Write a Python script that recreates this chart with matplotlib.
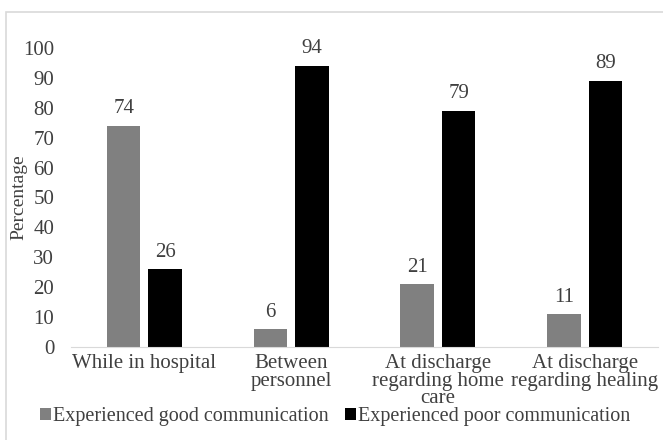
import matplotlib
matplotlib.use("Agg")
import matplotlib.pyplot as plt
import matplotlib.patches as patches
import numpy as np

plt.rcParams['font.family'] = ['Liberation Serif', 'DejaVu Serif']

# data
categories = ['While in hospital', 'Between\npersonnel',
              'At discharge\nregarding home\ncare', 'At discharge\nregarding healing']
good = [74, 6, 21, 11]
poor = [26, 94, 79, 89]
series_names = ['Experienced good communication', 'Experienced poor communication']

fig = plt.figure(figsize=(6.63, 4.40), dpi=100)
ax = fig.add_axes([0.107, 0.2114, 0.8855, 0.6795])

# chart border (light grey, runs off the right/bottom edges)
fig.patches.append(patches.Rectangle((0.009, -0.05), 1.1, 0.973 + 0.05,
                                     transform=fig.transFigure, fill=False,
                                     edgecolor='#d9d9d9', linewidth=1.2))

x = np.arange(len(categories))
w = 0.228
off = 0.141
b1 = ax.bar(x - off, good, w, color='#808080', label=series_names[0])
b2 = ax.bar(x + off, poor, w, color='#000000', label=series_names[1])

fs = 15
for bars, vals in [(b1, good), (b2, poor)]:
    for bar, v in zip(bars, vals):
        ax.text(bar.get_x() + bar.get_width() / 2, v + 2.5, str(v),
                ha='center', va='bottom', fontsize=fs, color='#404040')

ax.set_xlim(-0.5, len(categories) - 0.5)
ax.set_ylim(0, 100)
ax.set_yticks(range(0, 101, 10))
ax.set_xticks(x)
ax.set_xticklabels(categories, fontsize=fs, color='#404040', linespacing=0.9)
ax.tick_params(axis='y', labelsize=fs, labelcolor='#404040', length=0, pad=12)
ax.tick_params(axis='x', length=0, pad=5)
for s in ['top', 'right', 'left']:
    ax.spines[s].set_visible(False)
ax.spines['bottom'].set_color('#d9d9d9')
ax.set_ylabel('Percentage', fontsize=14, color='#404040')
ax.yaxis.set_label_coords(-0.075, 0.5)

fig.legend(handles=[b1, b2], loc='lower center', bbox_to_anchor=(0.505, -0.01),
           ncol=2, frameon=False, fontsize=14.5, handlelength=0.55,
           handleheight=0.55, handletextpad=0.1, columnspacing=0.8,
           labelcolor='#404040')

fig.savefig('out.png', dpi=100)
